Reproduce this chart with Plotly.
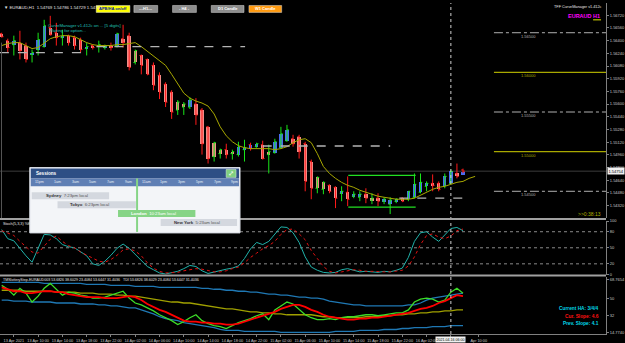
import plotly.graph_objects as go

# ---------------- data ----------------
bar_index = list(range(77))
opens = [1.56488, 1.56400, 1.56350, 1.56375, 1.56338, 1.56225, 1.56288, 1.56325, 1.56563, 1.56500,
         1.56438, 1.56463, 1.56438, 1.56413, 1.56300, 1.56338, 1.56325, 1.56313, 1.56338, 1.56338,
         1.56425, 1.56463, 1.56125, 1.56213, 1.56163, 1.56088, 1.55963, 1.55850, 1.55750, 1.55525,
         1.55563, 1.55563, 1.55600, 1.55525, 1.55313, 1.54938, 1.54975, 1.55025, 1.54975, 1.54963,
         1.55025, 1.55088, 1.55063, 1.55088, 1.54963, 1.54988, 1.55050, 1.55138, 1.55163, 1.55188,
         1.55100, 1.54875, 1.54538, 1.54525, 1.54575, 1.54550, 1.54475, 1.54488, 1.54438, 1.54425,
         1.54463, 1.54388, 1.54413, 1.54375, 1.54338, 1.54375, 1.54413, 1.54400, 1.54425, 1.54488,
         1.54563, 1.54600, 1.54600, 1.54563, 1.54600, 1.54725, 1.54769]
highs = [1.56500, 1.56425, 1.56463, 1.56525, 1.56375, 1.56288, 1.56500, 1.56663, 1.56713, 1.56625,
         1.56538, 1.56475, 1.56463, 1.56438, 1.56375, 1.56350, 1.56400, 1.56350, 1.56375, 1.56500,
         1.56600, 1.56500, 1.56288, 1.56225, 1.56175, 1.56125, 1.56000, 1.55875, 1.55775, 1.55650,
         1.55625, 1.55688, 1.55675, 1.55550, 1.55325, 1.55125, 1.55038, 1.55100, 1.55025, 1.55125,
         1.55150, 1.55113, 1.55113, 1.55138, 1.55088, 1.55163, 1.55313, 1.55338, 1.55213, 1.55213,
         1.55125, 1.54900, 1.54688, 1.54625, 1.54588, 1.54563, 1.54563, 1.54688, 1.54500, 1.54500,
         1.54538, 1.54475, 1.54475, 1.54425, 1.54425, 1.54413, 1.54425, 1.54500, 1.54725, 1.54725,
         1.54625, 1.54713, 1.54625, 1.54725, 1.54775, 1.54850, 1.54786]
lows = [1.56438, 1.56250, 1.56213, 1.56163, 1.56125, 1.56125, 1.56213, 1.56313, 1.56463, 1.56338,
        1.56338, 1.56338, 1.56288, 1.56250, 1.56213, 1.56288, 1.56250, 1.56288, 1.56275, 1.56313,
        1.56313, 1.56025, 1.56100, 1.55975, 1.55963, 1.55775, 1.55663, 1.55563, 1.55413, 1.55463,
        1.55463, 1.55538, 1.55338, 1.54963, 1.54850, 1.54875, 1.54913, 1.54913, 1.54900, 1.54938,
        1.54875, 1.55013, 1.55050, 1.54900, 1.54725, 1.54975, 1.55038, 1.55125, 1.55063, 1.54913,
        1.54500, 1.54400, 1.54475, 1.54463, 1.54475, 1.54288, 1.54375, 1.54313, 1.54413, 1.54375,
        1.54350, 1.54338, 1.54313, 1.54338, 1.54213, 1.54350, 1.54363, 1.54375, 1.54413, 1.54475,
        1.54500, 1.54500, 1.54500, 1.54538, 1.54588, 1.54663, 1.54729]
closes = [1.56450, 1.56313, 1.56400, 1.56275, 1.56163, 1.56250, 1.56413, 1.56588, 1.56475, 1.56438,
          1.56463, 1.56375, 1.56338, 1.56288, 1.56325, 1.56313, 1.56350, 1.56325, 1.56313, 1.56488,
          1.56375, 1.56063, 1.56275, 1.56088, 1.55975, 1.55838, 1.55750, 1.55625, 1.55500, 1.55625,
          1.55600, 1.55650, 1.55463, 1.55100, 1.54913, 1.55113, 1.55025, 1.54963, 1.55000, 1.55063,
          1.55050, 1.55038, 1.55100, 1.54913, 1.55000, 1.55125, 1.55225, 1.55275, 1.55100, 1.55000,
          1.54625, 1.54538, 1.54675, 1.54613, 1.54500, 1.54413, 1.54500, 1.54400, 1.54463, 1.54463,
          1.54413, 1.54413, 1.54375, 1.54400, 1.54388, 1.54400, 1.54375, 1.54500, 1.54588, 1.54613,
          1.54600, 1.54575, 1.54525, 1.54688, 1.54750, 1.54688, 1.54754]
ha_open = [1.56488, 1.56400, 1.56350, 1.56375, 1.56338, 1.56225, 1.56288, 1.56325, 1.56563, 1.56500,
           1.56438, 1.56463, 1.56438, 1.56413, 1.56300, 1.56338, 1.56325, 1.56313, 1.56338, 1.56338,
           1.56425, 1.56463, 1.56275, 1.56213, 1.56163, 1.56088, 1.55963, 1.55850, 1.55750, 1.55625,
           1.55600, 1.55563, 1.55600, 1.55525, 1.55313, 1.55113, 1.55025, 1.55025, 1.55000, 1.54963,
           1.55025, 1.55038, 1.55063, 1.55088, 1.55000, 1.54988, 1.55050, 1.55138, 1.55163, 1.55188,
           1.55100, 1.54875, 1.54675, 1.54613, 1.54575, 1.54550, 1.54475, 1.54488, 1.54438, 1.54425,
           1.54463, 1.54413, 1.54413, 1.54375, 1.54338, 1.54375, 1.54413, 1.54400, 1.54425, 1.54488,
           1.54563, 1.54600, 1.54600, 1.54563, 1.54600, 1.54725, 1.54700]
ha_close = [1.56450, 1.56313, 1.56400, 1.56275, 1.56163, 1.56250, 1.56413, 1.56588, 1.56475, 1.56438,
            1.56463, 1.56375, 1.56338, 1.56288, 1.56325, 1.56313, 1.56350, 1.56325, 1.56313, 1.56488,
            1.56375, 1.56063, 1.56125, 1.56088, 1.55975, 1.55838, 1.55750, 1.55625, 1.55500, 1.55525,
            1.55563, 1.55650, 1.55463, 1.55100, 1.54913, 1.54938, 1.54975, 1.54963, 1.54975, 1.55063,
            1.55050, 1.55088, 1.55100, 1.54913, 1.54963, 1.55125, 1.55225, 1.55275, 1.55100, 1.55000,
            1.54625, 1.54538, 1.54538, 1.54525, 1.54500, 1.54413, 1.54500, 1.54400, 1.54463, 1.54463,
            1.54413, 1.54388, 1.54375, 1.54400, 1.54388, 1.54400, 1.54375, 1.54500, 1.54588, 1.54613,
            1.54600, 1.54575, 1.54525, 1.54688, 1.54750, 1.54688, 1.54738]
ma_values = [1.56338, 1.56363, 1.56375, 1.56375, 1.56338, 1.56300, 1.56313, 1.56375, 1.56425, 1.56450,
             1.56463, 1.56463, 1.56450, 1.56413, 1.56375, 1.56350, 1.56338, 1.56338, 1.56338, 1.56350,
             1.56350, 1.56363, 1.56375, 1.56325, 1.56263, 1.56213, 1.56150, 1.56088, 1.55975, 1.55850,
             1.55738, 1.55675, 1.55638, 1.55613, 1.55575, 1.55475, 1.55313, 1.55200, 1.55125, 1.55075,
             1.55050, 1.55038, 1.55038, 1.55038, 1.55038, 1.55025, 1.55038, 1.55063, 1.55113, 1.55150,
             1.55163, 1.55113, 1.54975, 1.54813, 1.54725, 1.54663, 1.54613, 1.54575, 1.54550, 1.54513,
             1.54488, 1.54463, 1.54438, 1.54425, 1.54413, 1.54400, 1.54400, 1.54400, 1.54413, 1.54450,
             1.54488, 1.54525, 1.54550, 1.54563, 1.54588, 1.54613, 1.54625, 1.54663, 1.54688]
stoch_k = [84, 67, 63, 48, 35, 23, 50, 75, 74, 67,
           56, 52, 50, 43, 35, 20, 17, 25, 36, 49,
           57, 49, 38, 26, 15, 9, 3, 1, 3, 6,
           11, 17, 15, 7, 2, 5, 8, 10, 12, 16,
           30, 48, 60, 56, 62, 75, 89, 88, 78, 60,
           33, 14, 8, 4, 3, 4, 9, 11, 8, 5,
           6, 5, 4, 6, 5, 8, 12, 32, 62, 78,
           80, 70, 62, 74, 86, 88, 82]
stoch_d = [82, 78, 73, 62, 52, 42, 40, 52, 66, 72,
           62, 54, 50, 42, 36, 30, 25, 23, 28, 36,
           46, 48, 44, 35, 22, 12, 6, 3, 3, 4,
           7, 9, 11, 10, 7, 5, 5, 7, 11, 14,
           22, 32, 40, 48, 54, 62, 75, 84, 85, 76,
           65, 45, 30, 15, 6, 3, 5, 7, 9, 8,
           6, 6, 5, 5, 5, 6, 8, 16, 33, 56,
           73, 76, 70, 67, 72, 82, 85]
tdi_upper = [66, 66, 66, 66, 66, 66, 66, 65, 65, 65, 65, 65, 65, 65,
             64, 64, 64, 64, 63, 63, 63,
             63, 62, 62, 62, 62, 61, 61, 61, 61, 61, 61, 61,
             60, 60, 59, 59, 58, 58, 57, 57, 56, 56, 55,
             54, 54, 53, 53, 52, 51, 51, 50,
             50, 49, 47, 46, 45, 44, 43, 43, 42, 42, 42, 42,
             42, 42, 42, 43, 43, 45, 48,
             50, 51, 52, 53, 54, 55]
tdi_lower = [48, 48, 47, 47, 47, 46, 46, 46, 46, 45, 45, 45, 45, 44, 44, 44, 43,
             43, 42, 42, 41, 40, 40, 38, 36, 34, 31, 29, 28, 27, 25, 24, 23, 22, 21,
             20, 18, 17, 17, 17, 16, 16, 16, 16, 16, 16, 15, 15, 15, 15, 15, 15,
             15, 15, 15, 16, 16, 16, 16, 17, 17, 17, 17, 18, 18, 18, 19, 19, 20, 20, 20,
             21, 21, 21, 22, 22, 22]
tdi_mid = [58, 58, 58, 58, 57, 57, 57, 57, 57, 56, 56,
           56, 56, 55, 55, 55, 54, 54, 54, 53, 53, 52,
           52, 51, 50, 49, 48, 47, 46, 46, 45, 45, 44,
           43, 42, 41, 40, 39, 39, 38, 37, 36, 36, 35,
           35, 34, 34, 33, 33, 33, 33, 33, 32, 31, 31,
           30, 30, 30, 30, 30, 31, 31, 31, 32, 32, 33,
           33, 34, 34, 35, 35, 36, 36, 37, 37, 38, 38]
tdi_signal = [61, 59, 57, 57, 55, 55, 56, 57, 57, 56,
              56, 54, 53, 52, 51, 51, 51, 50, 50, 50,
              51, 52, 51, 48, 44, 41, 38, 36, 33, 30,
              27, 26, 26, 25, 25, 24, 24, 23, 23, 24,
              26, 28, 30, 32, 34, 36, 39, 41, 43, 43,
              41, 38, 36, 33, 31, 30, 29, 28, 28, 29,
              29, 30, 30, 31, 32, 33, 34, 35, 37, 39,
              40, 42, 45, 47, 50, 53, 52]
tdi_rsi = [63, 59, 53, 60, 55, 46, 52, 60, 65, 59,
           53, 56, 55, 53, 52, 50, 50, 51, 53, 55,
           57, 50, 45, 43, 40, 37, 33, 30, 27, 23,
           26, 30, 33, 27, 24, 22, 21, 19, 22, 25,
           27, 29, 32, 34, 28, 38, 42, 46, 44, 38,
           33, 30, 28, 28, 29, 28, 30, 31, 31, 32,
           33, 33, 32, 33, 34, 35, 35, 38, 46, 49,
           50, 49, 46, 48, 56, 60, 55]
time_tick_bars = [2, 6, 10, 14, 18, 22, 26, 30, 34, 38, 42, 46, 50, 54, 58, 62, 66, 70, 74, 78.6]
time_tick_labels = ["13 Apr 2021", "13 Apr 10:00", "13 Apr 14:00", "13 Apr 18:00", "13 Apr 22:00",
                    "14 Apr 02:00", "14 Apr 06:00", "14 Apr 10:00", "14 Apr 14:00", "14 Apr 18:00",
                    "14 Apr 22:00", "15 Apr 02:00", "15 Apr 06:00", "15 Apr 10:00", "15 Apr 14:00",
                    "15 Apr 18:00", "15 Apr 22:00", "16 Apr 02:00", "", "Apr 10:00"]
price_tick_vals = [1.56720, 1.56560, 1.56400, 1.56240, 1.56080, 1.55920, 1.55760, 1.55600,
                   1.55440, 1.55280, 1.55120, 1.54960, 1.54800, 1.54640, 1.54480, 1.54320]
stoch_tick_vals = [100, 80, 50, 20, 0]
tdi_tick_vals = [68.7654, 50, 32, 14.774]
tdi_tick_text = ["68.7654", "50", "32", "14.7740"]
level_prices = [1.56500, 1.56000, 1.55500, 1.55000, 1.54500]
level_kind = ["minor", "major", "minor", "major", "minor"]
dashed_levels = [(1.56250, -0.3, 13.3), (1.56325, 15.6, 40.1), (1.55071, 43.0, 64.0), (1.54413, 65.5, 76.3)]
box_top, box_bottom, box_start, box_end = 1.54700, 1.54300, 57.1, 68.2
current_price = 1.54754
cursor_bar = 74
cursor_label = "2021.04.16 06:00"
sessions = [("Sydney", "7:23pm local"), ("Tokyo", "6:23pm local"),
            ("London", "10:23am local"), ("New York", "5:23am local")]
session_hours = ["11pm", "1am", "3am", "5am", "7am", "9am", "11am", "1pm", "3pm", "5pm", "7pm", "9pm"]

# ---------------- figure ----------------
FONT = "Liberation Sans, Arial, sans-serif"
PW, PH = 611.0, 334.0


def px(x):
    return x / PW


def py(y):
    return 1 - y / PH


fig = go.Figure()

# OHLC bars (wicks with open/close ticks)
fig.add_trace(go.Ohlc(
    x=bar_index, open=opens, high=highs, low=lows, close=closes,
    increasing=dict(line=dict(color="#19e619", width=1)),
    decreasing=dict(line=dict(color="#ff1a1a", width=1)),
    tickwidth=0.3, hoverinfo="skip", xaxis="x", yaxis="y"))

# Heiken Ashi bodies
body_base = [min(o, c) for o, c in zip(ha_open, ha_close)]
body_len = [max(abs(c - o), 0.00012) for o, c in zip(ha_open, ha_close)]
body_col = ["#4a6cf0" if c > o else "#f38a86" for o, c in zip(ha_open, ha_close)]
fig.add_trace(go.Bar(x=bar_index, y=body_len, base=body_base, width=0.55,
                     marker=dict(color=body_col, line=dict(width=0)),
                     hoverinfo="skip", xaxis="x", yaxis="y"))

# Moving average
fig.add_trace(go.Scatter(x=list(range(len(ma_values))), y=ma_values, mode="lines",
                         line=dict(color="#a8a800", width=1), hoverinfo="skip",
                         xaxis="x", yaxis="y"))

# Stochastic
fig.add_trace(go.Scatter(x=bar_index, y=stoch_k, mode="lines",
                         line=dict(color="#20b2aa", width=1), hoverinfo="skip",
                         xaxis="x", yaxis="y2"))
fig.add_trace(go.Scatter(x=bar_index, y=stoch_d, mode="lines",
                         line=dict(color="#e01010", width=1, dash="dot"), hoverinfo="skip",
                         xaxis="x", yaxis="y2"))

# TDI
for vals, col, w in [(tdi_upper, "#1f78b4", 1.3), (tdi_lower, "#1f78b4", 1.3),
                     (tdi_mid, "#a0a000", 1.3), (tdi_rsi, "#3cdc28", 1.3),
                     (tdi_signal, "#ff0000", 1.8)]:
    fig.add_trace(go.Scatter(x=bar_index, y=vals, mode="lines",
                             line=dict(color=col, width=w), hoverinfo="skip",
                             xaxis="x", yaxis="y3"))

shapes = []
annotations = []

# current price line
shapes.append(dict(type="line", xref="paper", x0=0, x1=1, yref="y", y0=current_price, y1=current_price,
                   line=dict(color="#3c3c3c", width=1), layer="below"))

# dashed grey lines
for lvl, b0, b1 in dashed_levels:
    shapes.append(dict(type="line", xref="x", x0=b0, x1=b1, yref="y", y0=lvl, y1=lvl,
                       line=dict(color="#b4b4b4", width=1.3, dash="dash"), layer="above"))

# green range box
for lvl in (box_top, box_bottom):
    shapes.append(dict(type="line", xref="x", x0=box_start, x1=box_end, yref="y", y0=lvl, y1=lvl,
                       line=dict(color="#22e022", width=1.2), layer="above"))

# right-hand level lines + labels
for lvl, kind in zip(level_prices, level_kind):
    col = "#a8a800" if kind == "major" else "#b0b0b0"
    shapes.append(dict(type="line", xref="x", x0=81.1, x1=99.6, yref="y", y0=lvl, y1=lvl,
                       line=dict(color=col, width=1.2 if kind == "major" else 1,
                                 dash="solid" if kind == "major" else "dashdot"), layer="above"))
    annotations.append(dict(xref="x", x=86.8, yref="y", y=lvl, yshift=-3.5, text=f"{lvl:.5f}",
                            showarrow=False, font=dict(size=4, color=col, family=FONT)))

# stochastic levels
for lvl in (80, 50, 20):
    shapes.append(dict(type="line", xref="paper", x0=0, x1=1, yref="y2", y0=lvl, y1=lvl,
                       line=dict(color="#8a8a8a", width=1, dash="dot"), layer="below"))

# cursor vertical line
shapes.append(dict(type="line", xref="x", x0=cursor_bar, x1=cursor_bar, yref="paper", y0=0, y1=1,
                   line=dict(color="#d0d0d0", width=1, dash="dot"), layer="above"))

# panel separators and left edge
for ysep in (218, 275):
    shapes.append(dict(type="line", xref="paper", x0=0, x1=1, yref="paper", y0=py(ysep), y1=py(ysep),
                       line=dict(color="#a0a0a0", width=2), layer="above"))
shapes.append(dict(type="line", xref="paper", x0=px(1.5), x1=px(1.5), yref="paper", y0=py(217), y1=py(40),
                   line=dict(color="#555555", width=1), layer="above"))
# small yellow marker top right
shapes.append(dict(type="line", xref="paper", x0=px(598), x1=px(606), yref="paper", y0=py(17), y1=py(17),
                   line=dict(color="#e6e600", width=1), layer="above"))


def rect(x0, y0, x1, y1, fill, line=None, lw=0):
    shapes.append(dict(type="rect", xref="paper", yref="paper", x0=px(x0), x1=px(x1), y0=py(y1), y1=py(y0),
                       fillcolor=fill, line=dict(color=line or fill, width=lw), layer="above"))


def text(x, y, s, size, color, xanchor="left", bg=None):
    d = dict(xref="paper", yref="paper", x=px(x), y=py(y), text=s, showarrow=False,
             xanchor=xanchor, yanchor="middle", font=dict(size=size, color=color, family=FONT), borderpad=0)
    if bg:
        d["bgcolor"] = bg
    annotations.append(d)


# top-left title and buttons
text(3, 4.5, "▼ EURAUD,H1  1.54769 1.54786 1.54729 1.54754", 4.3, "#e6e6e6")
rect(97, 2.5, 131, 9.5, "#ffff00", "#e0e0e0", 0.5)
text(114, 6, "<b>APB/HA on/off</b>", 4, "#0010a0", "center")
for (x0, x1, lab, fill) in [(135, 159, "---H1---", "#8c8c8c"), (174, 198, "- H4 -", "#8c8c8c"),
                            (213, 246, "D1 Candle", "#8c8c8c"), (251, 284, "W1 Candle", "#ff9a10")]:
    rect(x0, 2.5, x1, 9.5, fill, "#d8d8d8", 0.5)
    text((x0 + x1) / 2, 6, f"<b>{lab}</b>", 4, "#ffffff", "center")

# top-right labels
text(608, 4.5, "TFF CurveManager v1.412c", 3.8, "#e6e6e6", "right")
text(606, 13, "<b>EURAUD H1</b>", 5.5, "#ff00ff", "right")

# teal info text
text(47, 22.5, "CurveManager v1.412c on ... [5 digits]", 4.3, "#20c0b8")
text(48, 27.5, "Waiting for option...", 4.3, "#20c0b8")

# timer
text(607, 213, ">>0:38:13", 5, "#b4b400", "right")

# indicator captions
text(2, 222.5, "Stoch(5,3,3) %K", 3.8, "#e6e6e6")
text(2, 280, "TMSlotteryStep-EURAUD003 53.6826 38.6029 23.4084 53.6447 31.4036   TDI 53.6826 38.6029 23.4084 53.6447 31.4036",
     3.6, "#e6e6e6")
text(605, 308.5, "<b>Current HA: 3/4/4</b>", 4.8, "#00d8e8", "right")
text(605, 316, "<b>Cur. Slope: 4.6</b>", 4.8, "#ff1010", "right")
text(605, 323.5, "<b>Prev. Slope: 4.1</b>", 4.8, "#00d8e8", "right")

# current price label on axis
annotations.append(dict(xref="paper", x=1, xanchor="left", xshift=1, yref="y", y=current_price,
                        text="1.54754", showarrow=False, bgcolor="#f0f0f0", borderpad=0.5,
                        font=dict(size=4, color="#000000", family=FONT)))
# cursor time label
annotations.append(dict(xref="x", x=cursor_bar, yref="paper", y=0, yanchor="top", yshift=-2,
                        text=cursor_label, showarrow=False, bgcolor="#f0f0f0", borderpad=0.5,
                        font=dict(size=3.6, color="#000000", family=FONT)))

# ---- Sessions widget ----
rect(30, 166, 242, 232, "#f3f5f8", "#d6dae2", 1)
rect(31, 167, 241, 177, "#2e4f85")
text(35, 172, "<b>Sessions</b>", 4.6, "#ffffff")
rect(228, 168, 238, 176, "#7fcf7f", "#e0f0e0", 0.5)
text(233, 172, "<b>⤢</b>", 5, "#ffffff", "center")
rect(31, 177, 241, 185, "#5f7fb4")
for k, h in enumerate(session_hours):
    text(40 + 17.9 * k, 181, h, 3.6, "#e8ecf4", "center")
sess_geom = [(32, 110, 194.5, "#d4d8df"), (58, 137, 203.5, "#d4d8df"),
             (119, 197, 212.5, "#86d486"), (162, 239, 221.5, "#d4d8df")]
rect(137.2, 177, 139.2, 231, "#86d486")
for (name, local), (x0, x1, yc, fill) in zip(sessions, sess_geom):
    rect(x0, yc - 3.5, x1, yc + 3.5, fill)
    tc = "#ffffff" if name == "London" else "#333333"
    lc = "#ffffff" if name == "London" else "#555555"
    text(x0 + 12 if name != "Sydney" else 45, yc,
         f"<b>{name}</b>  <span style='color:{lc}'>{local}</span>", 4.3, tc)

fig.update_layout(
    width=625, height=343,
    margin=dict(l=0, r=14, t=0, b=9),
    paper_bgcolor="#000000", plot_bgcolor="#000000",
    showlegend=False, barmode="overlay", bargap=0,
    font=dict(family=FONT, color="#d0d0d0", size=5),
    shapes=shapes, annotations=annotations,
    xaxis=dict(range=[-0.28, 99.56], domain=[0, 1], anchor="y3", showgrid=False, zeroline=False,
               tickmode="array", tickvals=time_tick_bars, ticktext=time_tick_labels, tickangle=0,
               ticks="outside", ticklen=2, tickcolor="#808080",
               tickfont=dict(size=3.8, color="#c8c8c8", family=FONT),
               showline=True, linecolor="#808080", rangeslider=dict(visible=False)),
    yaxis=dict(domain=[py(217), 1], range=[1.541625, 1.56875], side="right", anchor="x",
               tickmode="array", tickvals=price_tick_vals, ticktext=[f"{v:.5f}" for v in price_tick_vals],
               ticks="outside", ticklen=2, tickcolor="#808080", showline=True, linecolor="#808080",
               tickfont=dict(size=4, color="#c8c8c8", family=FONT), showgrid=False, zeroline=False),
    yaxis2=dict(domain=[py(274), py(220)], range=[0, 100], side="right", anchor="x",
                tickmode="array", tickvals=stoch_tick_vals, ticktext=[str(v) for v in stoch_tick_vals],
                ticks="outside", ticklen=2, tickcolor="#808080", showline=True, linecolor="#808080",
                tickfont=dict(size=4, color="#c8c8c8", family=FONT), showgrid=False, zeroline=False),
    yaxis3=dict(domain=[0, py(276)], range=[13.4, 72], side="right", anchor="x",
                tickmode="array", tickvals=tdi_tick_vals, ticktext=tdi_tick_text,
                ticks="outside", ticklen=2, tickcolor="#808080", showline=True, linecolor="#808080",
                tickfont=dict(size=4, color="#c8c8c8", family=FONT), showgrid=False, zeroline=False),
)

fig.write_html("out.html")
